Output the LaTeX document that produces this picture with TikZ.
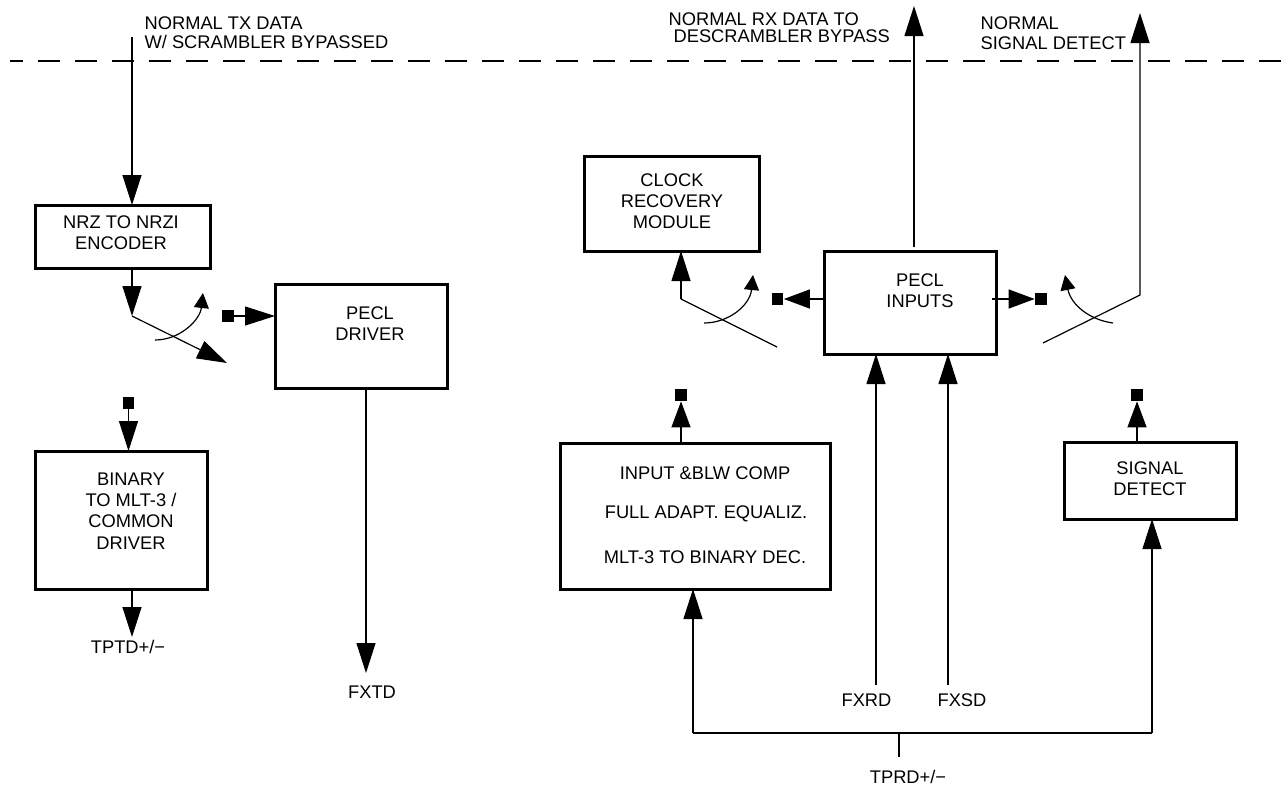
\documentclass[tikz,border=0pt]{standalone}
\usepackage{fontspec}
\setmainfont{Liberation Sans}
\usetikzlibrary{arrows.meta}

\tikzset{
	blockbox/.style={draw,line width=3pt,inner sep=0pt,outer sep=0pt},
	blocktext/.style={inner sep=0pt,align=center},
	tag/.style={inner sep=0pt,align=left,anchor=west},
	pin/.style={fill=black,inner sep=0pt,minimum size=11.5pt},
	bigarrow/.style={-{Triangle[length=30pt,width=19pt]}},
	shortarrow/.style={-{Triangle[length=26pt,width=19pt]}},
	swingarrow/.style={-{Triangle[length=15pt,width=15pt]}}
}

\begin{document}
\begin{tikzpicture}[x=1pt,y=-1pt,line width=1.2pt,font=\fontsize{18.3}{21.3}\selectfont]
	\useasboundingbox (0,0) rectangle (1281,787);
	\draw[dash pattern=on 22pt off 15pt,dash phase=9pt] (10,61) -- (1281,61);

	% blocks
	\node[blockbox,minimum width=175pt,minimum height=63pt] (nrz) at (122.5,236.5) {};
	\node[blockbox,minimum width=172pt,minimum height=104pt] (driver) at (361,336) {};
	\node[blockbox,minimum width=172pt,minimum height=138pt] (binary) at (121,520) {};
	\node[blockbox,minimum width=175pt,minimum height=95pt] (clock) at (671.5,203.5) {};
	\node[blockbox,minimum width=172pt,minimum height=103pt] (inputs) at (910,302.5) {};
	\node[blockbox,minimum width=270pt,minimum height=146pt] (equal) at (695,516) {};
	\node[blockbox,minimum width=172pt,minimum height=77pt] (detect) at (1150,480.5) {};

	\node[blocktext] (nrzText) at (121,232.5) {NRZ TO NRZI\\ENCODER};
	\node[blocktext] (driverText) at (370,323.5) {PECL\\DRIVER};
	\node[blocktext] (binaryText) at (131,511) {BINARY\\TO MLT-3 /\\COMMON\\DRIVER};
	\node[blocktext] (clockText) at (672,201) {CLOCK\\RECOVERY\\MODULE};
	\node[blocktext] (inputsText) at (920,290.5) {PECL\\INPUTS};
	\node[blocktext] (compText) at (705,473) {INPUT \&BLW COMP};
	\node[blocktext] (adaptText) at (706,514) {FULL ADAPT. EQUALIZ.};
	\node[blocktext] (decText) at (705,557) {MLT-3 TO BINARY DEC.};
	\node[blocktext] (detectText) at (1150,478.5) {SIGNAL\\DETECT};

	% labels
	\node[tag] (txLabel) at (144,32.5) {NORMAL TX DATA\\[-2pt]W/ SCRAMBLER BYPASSED};
	\node[tag] (rxLabel) at (668,28) {NORMAL RX DATA TO\\[-4pt]\hspace*{5pt}DESCRAMBLER BYPASS};
	\node[tag] (sdLabel) at (980,33) {NORMAL\\[-1pt]SIGNAL DETECT};
	\node[blocktext] (tptd) at (128,647) {TPTD+/−};
	\node[blocktext] (fxtd) at (372,692) {FXTD};
	\node[blocktext] (fxrd) at (866.5,700) {FXRD};
	\node[blocktext] (fxsd) at (962,700) {FXSD};
	\node[blocktext] (tprd) at (908,777) {TPRD+/−};

	% pins
	\node[pin] (pinDriver) at (228,316) {};
	\node[pin] (pinBinary) at (128.5,403) {};
	\node[pin] (pinClock) at (777.5,299) {};
	\node[pin] (pinInputs) at (1041,299) {};
	\node[pin] (pinEqual) at (681,395) {};
	\node[pin] (pinDetect) at (1137,395) {};

	% switch points
	\coordinate (txTop) at (132,37);
	\coordinate (txKnee) at (132,316);
	\coordinate (txEnd) at (227,363);
	\coordinate (binaryEnd) at (132,637);
	\coordinate (driverEnd) at (366,673);
	\coordinate (clockKnee) at (681,299);
	\coordinate (clockEnd) at (777,347);
	\coordinate (sdKnee) at (1140,295);
	\coordinate (sdEnd) at (1043,343);
	\coordinate (sdTop) at (1140,13);
	\coordinate (rxTop) at (914,6);
	\coordinate (fxrdEnd) at (876,685);
	\coordinate (fxsdEnd) at (948,685);
	\coordinate (busLeft) at (693,733);
	\coordinate (busRight) at (1152,733);
	\coordinate (busMid) at (899,733);
	\coordinate (busTail) at (899,757);

	% left side
	\draw[bigarrow] (txTop) -- (txTop |- nrz.north);
	\draw[bigarrow] (txTop |- nrz.south) -- (txKnee);
	\draw[bigarrow] (txKnee) -- (txEnd);
	\draw[swingarrow] (155,340) .. controls (180,340) and (200,320) .. (203,293);
	\draw[bigarrow] (pinDriver) -- (driver.west |- pinDriver);
	\draw[bigarrow] (pinBinary) -- (pinBinary |- binary.north);
	\draw[bigarrow] (binaryEnd |- binary.south) -- (binaryEnd);
	\draw[bigarrow] (driverEnd |- driver.south) -- (driverEnd);

	% right side
	\draw[bigarrow] (clockKnee) -- (clockKnee |- clock.south);
	\draw (clockKnee) -- (clockEnd);
	\draw[swingarrow] (704,323) .. controls (729,323) and (750,305) .. (753,275);
	\draw[shortarrow] (inputs.west |- pinClock) -- (pinClock.east);
	\draw[shortarrow] ([xshift=-4pt]inputs.east |- pinInputs) -- (pinInputs.west);
	\draw[bigarrow] ([yshift=4pt]rxTop |- inputs.north) -- (rxTop);
	\draw[bigarrow] (sdEnd) -- (sdKnee) -- (sdTop);
	\draw[swingarrow] (1113,323) .. controls (1090,320) and (1071,305) .. (1065,275);
	\draw[shortarrow] (pinEqual |- equal.north) -- (pinEqual.south);
	\draw[shortarrow] (pinDetect |- detect.north) -- (pinDetect.south);
	\draw[bigarrow] (fxrdEnd) -- (fxrdEnd |- inputs.south);
	\draw[bigarrow] (fxsdEnd) -- (fxsdEnd |- inputs.south);
	\draw[bigarrow] (busLeft) -- (busLeft |- equal.south);
	\draw[bigarrow] (busRight) -- (busRight |- detect.south);
	\draw (busLeft) -- (busRight);
	\draw (busMid) -- (busTail);
\end{tikzpicture}
\end{document}
